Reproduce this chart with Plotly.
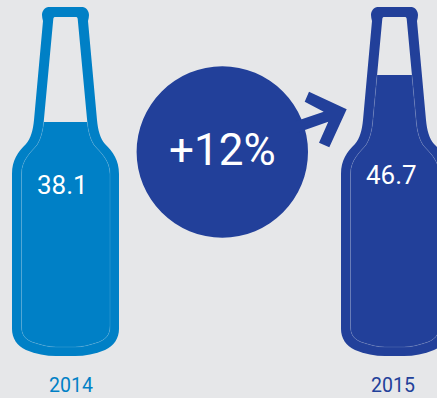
import plotly.graph_objects as go

# Beer volume per year and the change between them
years = ["2014", "2015"]
volumes = [38.1, 46.7]
change_label = "+12%"

BG = "#e6e7e9"
colors = ["#0080c6", "#22409a"]
CHANGE_COLOR = "#22409a"
FONT = "Roboto"

W, H = 437, 398
# The vertical axis is the volume scale; the bottle artwork is laid out in pixels
ZERO_PX, PX_PER_UNIT = 330.2, 5.465
BOTTLE_SHIFT = [0, 329]
BOTTLE_CENTER = 65.5
BOTTOM_PX = 360


def vy(py):
    return (ZERO_PX - py) / PX_PER_UNIT


def svg(cmds, dx=0):
    parts = []
    for c in cmds:
        op, pts = c[0], c[1:]
        coords = " ".join(f"{pts[i] + dx:.2f},{vy(pts[i + 1]):.3f}" for i in range(0, len(pts), 2))
        parts.append(f"{op}{coords}")
    return " ".join(parts)


OUTER = [
    ("M", 48.5, 7), ("L", 82.5, 7),
    ("C", 86, 7, 89, 11, 89, 15), ("C", 89, 17, 88.5, 19, 88, 21),
    ("L", 97, 120), ("C", 98, 130, 100, 138, 105, 144),
    ("C", 113, 152, 119, 160, 119, 174),
    ("L", 119, 329), ("C", 119, 338, 114, 346, 105, 350),
    ("C", 95, 354, 85, 356, 75, 356), ("L", 56, 356),
    ("C", 46, 356, 36, 354, 26, 350), ("C", 17, 346, 12, 338, 12, 329),
    ("L", 12, 174), ("C", 12, 160, 18, 152, 26, 144),
    ("C", 31, 138, 33, 130, 34, 120),
    ("L", 43, 21), ("C", 42.5, 19, 42, 17, 42, 15),
    ("C", 42, 11, 45, 7, 48.5, 7), ("Z",),
]

NECK_TOP_Y, NECK_LOW_Y = 17, 122
NECK_L_TOP, NECK_L_LOW = 53.5, 43.7
NECK_R_TOP, NECK_R_LOW = 77.5, 87.3

LOWER_RIGHT = [
    ("C", 88, 130, 90, 139, 94, 145), ("C", 100, 152, 110, 160, 110, 174),
    ("L", 110, 326), ("C", 110, 335, 106, 339, 99, 342),
    ("C", 90, 345, 82, 347, 75, 347), ("L", 56, 347),
    ("C", 49, 347, 41, 345, 32, 342), ("C", 25, 339, 21.5, 335, 21.5, 326),
    ("L", 21.5, 174), ("C", 21.5, 160, 31, 152, 37, 145),
    ("C", 41, 139, 43, 130, 43.7, 122),
]

INNER = [
    ("M", NECK_L_TOP + 2, NECK_TOP_Y), ("L", NECK_R_TOP - 2, NECK_TOP_Y),
    ("C", NECK_R_TOP - 0.5, NECK_TOP_Y, NECK_R_TOP, NECK_TOP_Y + 0.5, NECK_R_TOP + 0.2, NECK_TOP_Y + 2),
    ("L", NECK_R_LOW, NECK_LOW_Y),
    *LOWER_RIGHT,
    ("L", NECK_L_TOP - 0.2, NECK_TOP_Y + 2),
    ("C", NECK_L_TOP, NECK_TOP_Y + 0.5, NECK_L_TOP + 0.5, NECK_TOP_Y, NECK_L_TOP + 2, NECK_TOP_Y),
    ("Z",),
]


def neck_x(py, top, low):
    return top + (low - top) * (py - NECK_TOP_Y) / (NECK_LOW_Y - NECK_TOP_Y)


fig = go.Figure()

# Liquid columns: each bar's top sits at the year's volume
for year, vol, color, shift in zip(years, volumes, colors, BOTTLE_SHIFT):
    floor = vy(BOTTOM_PX)
    fig.add_bar(
        x=[BOTTLE_CENTER + shift], y=[vol - floor], base=[floor], width=[112],
        marker=dict(color=color, line=dict(width=0)), name=year, showlegend=False,
    )

shapes = []

# Background covers everything except the inside of the two bottles
corner = f"M-5,{vy(-5):.3f} L{W + 5},{vy(-5):.3f} L{W + 5},{vy(H + 5):.3f} L-5,{vy(H + 5):.3f} Z"
holes = " ".join(svg(INNER, s) for s in BOTTLE_SHIFT)
shapes.append(dict(type="path", path=f"{corner} {holes}", fillcolor=BG, line_width=0, layer="above"))

for vol, color, shift in zip(volumes, colors, BOTTLE_SHIFT):
    # Glass wall: outer silhouette minus the inner contour
    shapes.append(dict(type="path", path=f"{svg(OUTER, shift)} {svg(INNER, shift)}",
                       fillcolor=color, line_width=0, layer="above"))
    # Highlight line from the liquid surface around the inside of the glass
    level_px = ZERO_PX - vol * PX_PER_UNIT
    highlight = [
        ("M", neck_x(level_px, NECK_R_TOP, NECK_R_LOW), level_px),
        ("L", NECK_R_LOW, NECK_LOW_Y),
        *LOWER_RIGHT,
        ("L", neck_x(level_px, NECK_L_TOP, NECK_L_LOW), level_px),
    ]
    shapes.append(dict(type="path", path=svg(highlight, shift), fillcolor="rgba(0,0,0,0)",
                       line=dict(color="rgba(255,255,255,0.22)", width=0.6), layer="above"))

# Growth badge and arrow
CX, CY, R = 222.3, 152, 85.7
shapes.append(dict(type="circle", x0=CX - R, x1=CX + R, y0=vy(CY - R), y1=vy(CY + R),
                   fillcolor=CHANGE_COLOR, line_width=0, layer="above"))
ARROW = [
    ("M", 295, 121.6), ("L", 323.7, 111.7), ("L", 304.7, 101.7), ("L", 309, 91.7),
    ("L", 346.7, 109.3), ("L", 329.3, 147.3), ("L", 319, 142.7), ("L", 328.3, 121.7),
    ("L", 295, 133.5), ("Z",),
]
shapes.append(dict(type="path", path=svg(ARROW), fillcolor=CHANGE_COLOR, line_width=0, layer="above"))


def label(text, x, py, size, color):
    return dict(text=text, x=x, y=vy(py), xref="x", yref="y", showarrow=False,
                xanchor="center", yanchor="middle",
                font=dict(family=FONT, size=size, color=color))


annotations = [label(change_label, 222.7, 150, 44, "white")]
value_pos = [(62, 185), (391.7, 175)]
year_pos = [(71, 385), (392.5, 385)]
for vol, year, color, vp, yp in zip(volumes, years, colors, value_pos, year_pos):
    annotations.append(label(f"{vol}", vp[0], vp[1], 26, "white"))
    annotations.append(label(year, yp[0], yp[1], 19.5, color))

fig.update_layout(
    width=W, height=H, autosize=False,
    margin=dict(l=0, r=0, t=0, b=0),
    paper_bgcolor=BG, plot_bgcolor=BG,
    barmode="overlay", showlegend=False,
    xaxis=dict(range=[0, W], visible=False, fixedrange=True),
    yaxis=dict(range=[vy(H), vy(0)], visible=False, fixedrange=True),
    shapes=shapes, annotations=annotations,
)

fig.write_html("out.html", config=dict(displayModeBar=False))
